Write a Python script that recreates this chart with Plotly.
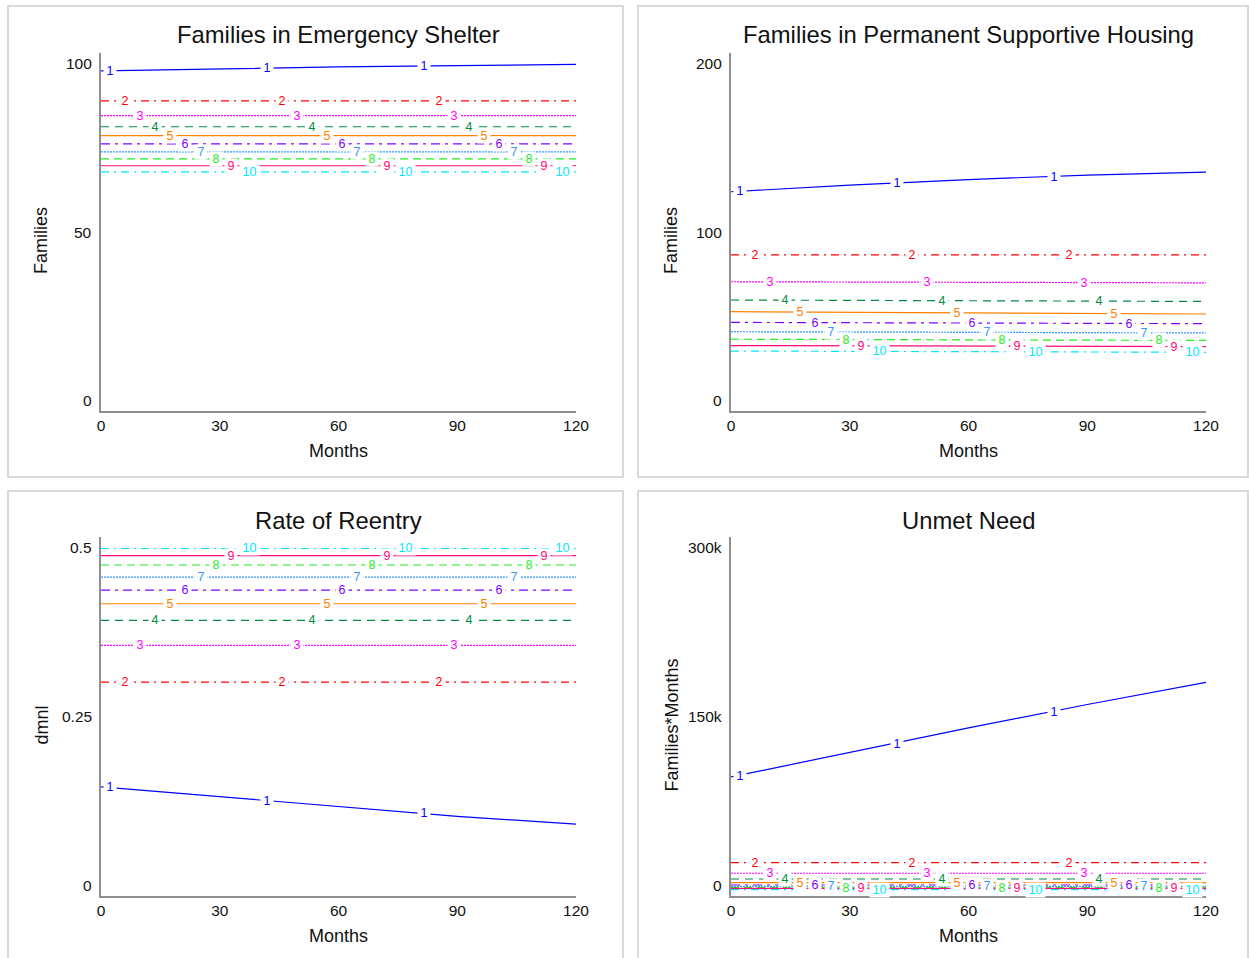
import numpy as np
import plotly.graph_objects as go

W, H = 1249, 958

# ---------------------------------------------------------------- data
months = [0, 30, 60, 90, 120]
x_ticks = [0, 30, 60, 90, 120]
run_names = ["1", "2", "3", "4", "5", "6", "7", "8", "9", "10"]

# Families in Emergency Shelter, one list per run
shelter = [
    [95.0, 95.6, 96.1, 96.5, 96.8],
    [86.6, 86.6, 86.6, 86.6, 86.6],
    [82.5, 82.5, 82.5, 82.5, 82.5],
    [79.4, 79.4, 79.4, 79.4, 79.4],
    [76.9, 76.9, 76.9, 76.9, 76.9],
    [74.6, 74.6, 74.6, 74.6, 74.6],
    [72.4, 72.4, 72.4, 72.4, 72.4],
    [70.4, 70.4, 70.4, 70.4, 70.4],
    [68.5, 68.5, 68.5, 68.5, 68.5],
    [66.8, 66.8, 66.8, 66.8, 66.8],
]
shelter_ticks = [0, 50, 100]
shelter_tick_text = ["0", "50", "100"]

# Families in Permanent Supportive Housing
supportive = [
    [122.5, 126.2, 129.3, 131.8, 133.5],
    [87.2, 87.2, 87.2, 87.2, 87.2],
    [72.2, 72.1, 71.9, 71.7, 71.6],
    [62.0, 61.8, 61.6, 61.4, 61.2],
    [55.5, 55.2, 54.9, 54.5, 54.2],
    [49.5, 49.3, 49.1, 48.9, 48.8],
    [44.3, 44.1, 43.9, 43.7, 43.6],
    [40.1, 39.9, 39.7, 39.5, 39.4],
    [36.5, 36.4, 36.2, 36.1, 36.0],
    [33.5, 33.3, 33.1, 32.9, 32.8],
]
supportive_ticks = [0, 100, 200]
supportive_tick_text = ["0", "100", "200"]

# Rate of Reentry
reentry = [
    [0.152, 0.138, 0.124, 0.111, 0.100],
    [0.298, 0.298, 0.298, 0.298, 0.298],
    [0.349, 0.349, 0.349, 0.349, 0.349],
    [0.384, 0.384, 0.384, 0.384, 0.384],
    [0.407, 0.407, 0.407, 0.407, 0.407],
    [0.426, 0.426, 0.426, 0.426, 0.426],
    [0.444, 0.444, 0.444, 0.444, 0.444],
    [0.461, 0.461, 0.461, 0.461, 0.461],
    [0.474, 0.474, 0.474, 0.474, 0.474],
    [0.484, 0.484, 0.484, 0.484, 0.484],
]
reentry_ticks = [0, 0.25, 0.5]
reentry_tick_text = ["0", "0.25", "0.5"]

# Unmet Need (Families*Months)
unmet = [
    [99500, 120000, 140500, 160000, 178500],
    [27900, 27900, 27900, 27900, 27900],
    [19000, 19000, 19000, 19000, 19000],
    [14200, 14200, 14200, 14200, 14200],
    [11100, 11100, 11100, 11100, 11100],
    [9200, 9200, 9200, 9200, 9200],
    [8000, 8000, 8000, 8000, 8000],
    [7100, 7100, 7100, 7100, 7100],
    [6300, 6300, 6300, 6300, 6300],
    [5400, 5400, 5400, 5400, 5400],
]
unmet_ticks = [0, 150000, 300000]
unmet_tick_text = ["0", "150k", "300k"]

# ---------------------------------------------------------------- styles
colors = ["#0000FF", "#FF0000", "#FF00FF", "#008C46", "#FF8000",
          "#8000FF", "#3399FF", "#22EE22", "#FF0A78", "#00E8FF"]
dashes = ["solid", "8px,5px,2px,5px", "2px,1px", "8px,6px", "solid",
          "9px,5px,3px,5px", "2px,1px", "8px,5px", "solid", "8px,5px,2px,5px"]

FONT = "Liberation Sans, Arial, sans-serif"
TEXT = "#111111"
AXIS = "#8f8f8f"
FRAME = "#d9d9d9"
PAD = "\u2009"          # thin space either side of a run label

# plot boxes in pixels: (left, right, top, bottom); frame boxes around each chart
panels = [
    dict(title="Families in Emergency Shelter", ytitle="Families",
         runs=shelter, ticks=shelter_ticks, tick_text=shelter_tick_text,
         box=(101, 576, 53, 411), frame=(8, 623, 6, 477), title_y=34),
    dict(title="Families in Permanent Supportive Housing", ytitle="Families",
         runs=supportive, ticks=supportive_ticks, tick_text=supportive_tick_text,
         box=(731, 1206, 53, 411), frame=(638, 1248, 6, 477), title_y=34),
    dict(title="Rate of Reentry", ytitle="dmnl",
         runs=reentry, ticks=reentry_ticks, tick_text=reentry_tick_text,
         box=(101, 576, 537, 896), frame=(8, 623, 491, 975), title_y=520),
    dict(title="Unmet Need", ytitle="Families*Months",
         runs=unmet, ticks=unmet_ticks, tick_text=unmet_tick_text,
         box=(731, 1206, 537, 896), frame=(638, 1248, 491, 975), title_y=520),
]


def fx(px):
    return px / W


def fy(py):
    return 1 - py / H


fig = go.Figure()
annotations = []
shapes = []
layout_axes = {}

for i, p in enumerate(panels, start=1):
    sx = "" if i == 1 else str(i)
    xa, ya = "x" + sx, "y" + sx
    left, right, top, bottom = p["box"]
    ymin, ymax = p["ticks"][0], p["ticks"][-1]

    layout_axes["xaxis" + sx] = dict(
        domain=[fx(left), fx(right)], anchor=ya, range=[0, 120],
        tickvals=x_ticks, ticktext=[str(t) for t in x_ticks], ticks="",
        tickfont=dict(size=15.5, color=TEXT, family=FONT),
        showline=True, linecolor=AXIS, linewidth=1.5,
        showgrid=False, zeroline=False, fixedrange=True, automargin=False)
    layout_axes["yaxis" + sx] = dict(
        domain=[fy(bottom), fy(top)], anchor=xa, range=[ymin, ymax],
        showticklabels=False, ticks="",
        showline=True, linecolor=AXIS, linewidth=1.5,
        showgrid=False, zeroline=False, fixedrange=True, automargin=False)

    # runs
    for k, vals in enumerate(p["runs"]):
        fig.add_trace(go.Scatter(
            x=months, y=vals, mode="lines", xaxis=xa, yaxis=ya,
            line=dict(color=colors[k], width=1.2, dash=dashes[k]),
            showlegend=False, hoverinfo="skip"))

    # run number labels sitting on each line, repeated every ~40 months
    for k, vals in enumerate(p["runs"]):
        for j in range(3):
            m = 1.2 + 3.8 * k + 39.6 * j
            annotations.append(dict(
                x=m, y=float(np.interp(m, months, vals)), xref=xa, yref=ya,
                text=PAD + run_names[k] + PAD, showarrow=False, xanchor="left",
                xshift=-2.5, yanchor="middle", bgcolor="white", borderpad=0,
                font=dict(size=12.5, color=colors[k], family=FONT)))

    # value labels on the vertical axis
    for v, t in zip(p["ticks"], p["tick_text"]):
        anchor = "top" if v == ymax else ("bottom" if v == ymin else "middle")
        annotations.append(dict(
            x=fx(left - 7), y=v, xref="paper", yref=ya, text=t,
            showarrow=False, xanchor="right", yanchor=anchor,
            font=dict(size=15.5, color=TEXT, family=FONT)))

    # chart title and axis titles
    annotations.append(dict(
        x=fx((left + right) / 2), y=fy(p["title_y"]), xref="paper", yref="paper",
        text=p["title"], showarrow=False, xanchor="center", yanchor="middle",
        font=dict(size=23.8, color=TEXT, family=FONT)))
    annotations.append(dict(
        x=fx((left + right) / 2), y=fy(bottom + 40), xref="paper", yref="paper",
        text="Months", showarrow=False, xanchor="center", yanchor="middle",
        font=dict(size=18, color=TEXT, family=FONT)))
    annotations.append(dict(
        x=fx(left - 60), y=fy((top + bottom) / 2 + 9), xref="paper", yref="paper",
        text=p["ytitle"], showarrow=False, xanchor="center", yanchor="middle",
        textangle=-90, font=dict(size=18, color=TEXT, family=FONT)))

    fl, fr, ft, fb = p["frame"]
    shapes.append(dict(type="rect", xref="paper", yref="paper",
                       x0=fx(fl), x1=fx(fr), y0=fy(fb), y1=fy(ft),
                       line=dict(color=FRAME, width=2), layer="below"))

fig.update_layout(
    width=W, height=H, autosize=False,
    margin=dict(l=0, r=0, t=0, b=0, pad=0, autoexpand=False),
    paper_bgcolor="white", plot_bgcolor="white",
    font=dict(family=FONT, color=TEXT),
    annotations=annotations, shapes=shapes,
    **layout_axes)

fig.write_html("out.html", config={"displayModeBar": False, "responsive": False})
